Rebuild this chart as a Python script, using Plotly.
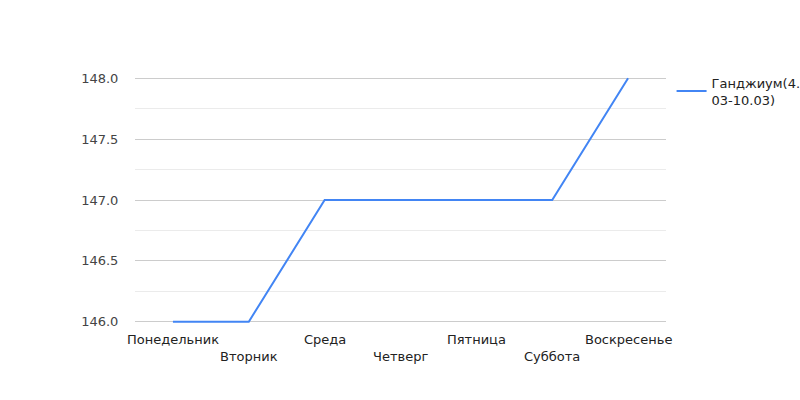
import plotly.graph_objects as go

days = ["Понедельник", "Вторник", "Среда", "Четверг", "Пятница", "Суббота", "Воскресенье"]
values = [146, 146, 147, 147, 147, 147, 148]
series_name = "Ганджиум(4.<br>03-10.03)"
y_ticks = [146.0, 146.5, 147.0, 147.5, 148.0]

FONT = "DejaVu Sans, Arial, sans-serif"

fig = go.Figure()
fig.add_trace(go.Scatter(x=days, y=values, mode="lines", name=series_name,
                         line=dict(color="#4285f4", width=2), showlegend=True))

for i, d in enumerate(days):
    fig.add_annotation(x=d, y=0, xref="x", yref="paper", text=d, showarrow=False,
                       yanchor="top", yshift=-7 if i % 2 == 0 else -24,
                       font=dict(family=FONT, size=13, color="#222"))

fig.update_layout(
    width=800, height=400,
    margin=dict(l=135, r=134, t=77, b=77, autoexpand=False),
    paper_bgcolor="white", plot_bgcolor="white",
    font=dict(family=FONT, size=13, color="#444"),
    xaxis=dict(showticklabels=False, showgrid=False, zeroline=False, showline=False,
               range=[-0.5, 6.5]),
    yaxis=dict(range=[145.99, 148.01], tickvals=y_ticks, ticktext=[f"{v:.1f}" for v in y_ticks],
               showgrid=True, gridcolor="#cccccc", gridwidth=1, zeroline=False,
               ticks="outside", ticklen=13, tickcolor="rgba(0,0,0,0)",
               tickfont=dict(family=FONT, size=13, color="#444"),
               minor=dict(tickvals=[146.25, 146.75, 147.25, 147.75], showgrid=True,
                          gridcolor="#ebebeb", gridwidth=1)),
    legend=dict(x=1.0105, y=1.038, xanchor="left", yanchor="top",
                font=dict(family=FONT, size=13, color="#222"),
                bgcolor="rgba(0,0,0,0)", itemwidth=30, tracegroupgap=0),
    showlegend=True,
)

fig.write_html("out.html")
